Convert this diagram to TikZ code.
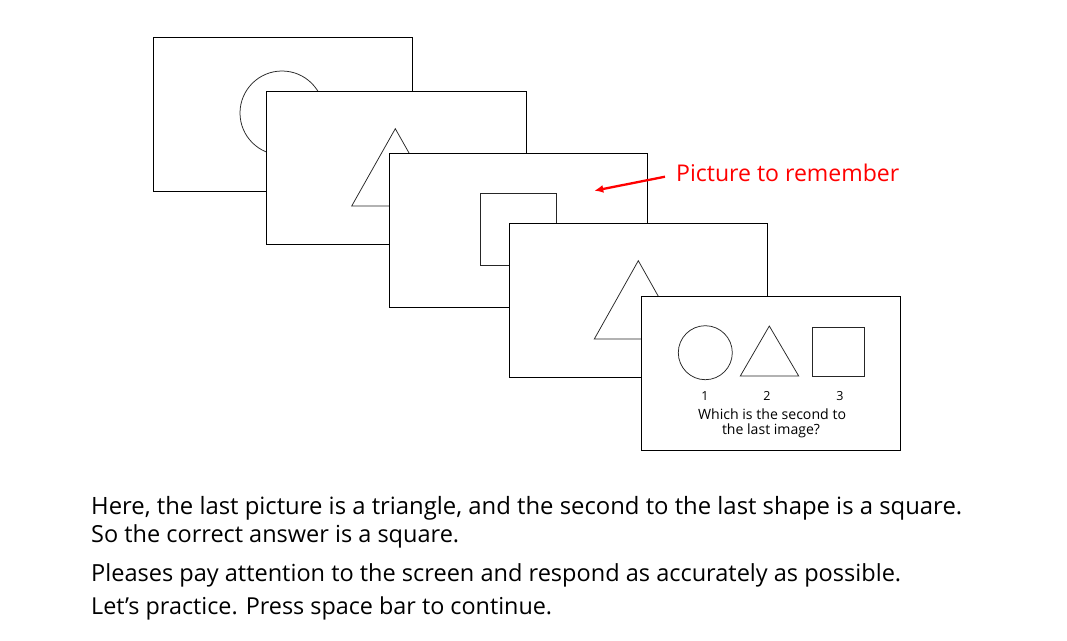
\documentclass[tikz,border=0pt]{standalone}
\usepackage{fontspec}
\setmainfont{Open Sans}
\usetikzlibrary{arrows.meta}
\begin{document}
\begin{tikzpicture}[x=1pt,y=-1pt,
  frame/.style={draw=black, fill=white, line width=1.1pt, anchor=north west, inner sep=0pt},
  fig/.style={draw=black!85, line width=0.75pt},
  lbl/.style={inner sep=0pt, anchor=base west, font=\fontsize{20}{24}\selectfont},
  small/.style={inner sep=0pt, font=\fontsize{12.5}{17}\selectfont, align=center}]
\useasboundingbox[fill=white] (0,0) rectangle (1067,640);
% frame 1
\node[frame, minimum width=259pt, minimum height=154pt] (f1) at (153,37) {};
\draw[fig] (282,113) circle[radius=42pt];
% frame 2
\node[frame, minimum width=260pt, minimum height=153pt] (f2) at (266,91) {};
\draw[fig] (395.3,128.7) -- (351.7,206) -- (439,206) -- cycle;
% frame 3
\node[frame, minimum width=258pt, minimum height=154pt] (f3) at (389,153) {};
\draw[fig, line width=1pt] (480.3,193.3) rectangle (556.3,265);
% frame 4
\node[frame, minimum width=258pt, minimum height=154pt] (f4) at (509,223) {};
\draw[fig] (638.3,260.7) -- (594.3,339) -- (682.3,339) -- cycle;
% frame 5
\node[frame, minimum width=259pt, minimum height=154pt] (f5) at (641,296) {};
\draw[fig] (705.3,352.7) circle[radius=27pt];
\draw[fig] (769.3,326) -- (740.3,376) -- (798.7,376) -- cycle;
\draw[fig, line width=0.9pt] (812,327.3) rectangle (864.3,376);
\node[small] (n1) at (705,396) {1};
\node[small] (n2) at (767,396) {2};
\node[small] (n3) at (840,396) {3};
\node[small] (q1) at (772,414) {\resizebox{148pt}{!}{Which is the second to}};
\node[small] (q2) at (771,431) {\resizebox{98pt}{!}{the last image?}};
% label and arrow
\node[inner sep=0pt, anchor=west, text=red, font=\fontsize{21}{24}\selectfont] (pic) at (676,173) {\resizebox{223pt}{!}{Picture to remember}};
\coordinate (as) at (665,176.7);
\coordinate (at) at (594.3,190.7);
\draw[red, line width=2.3pt, -{Latex[length=9pt,width=8pt]}] (as) -- (at);
% bottom text
\node[lbl] (t1) at (91,514) {\resizebox{871pt}{!}{Here, the last picture is a triangle, and the second to the last shape is a square.}};
\node[lbl] (t2) at (91,542) {\resizebox{368pt}{!}{So the correct answer is a square.}};
\node[lbl] (t3) at (91,581) {\resizebox{810pt}{!}{Pleases pay attention to the screen and respond as accurately as possible.}};
\node[lbl] (t4) at (91,614) {\resizebox{461pt}{!}{Let’s practice. Press space bar to continue.}};
\end{tikzpicture}
\end{document}
